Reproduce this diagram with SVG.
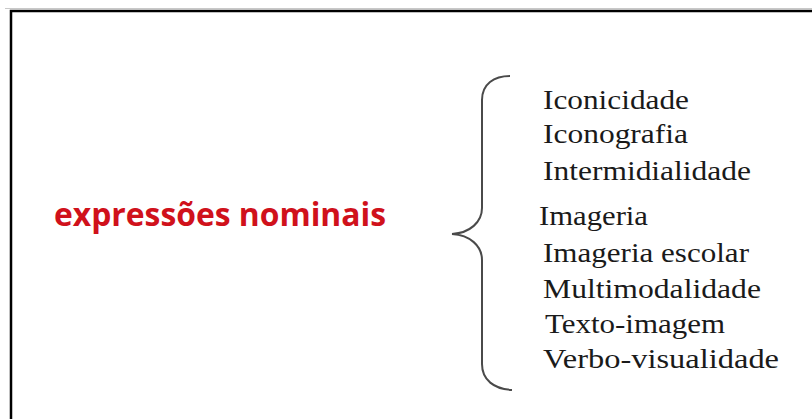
<svg xmlns="http://www.w3.org/2000/svg" width="812" height="419" viewBox="0 0 812 419">
<style>
.item{font-family:"Liberation Serif","Times New Roman",serif;font-size:28px;fill:#1a1a1a}
.title{font-family:"Open Sans","Liberation Sans",sans-serif;font-weight:700;font-size:32px;fill:#d0111b}
.brace{fill:none;stroke:#4a4a4a;stroke-width:2}
</style>
<rect width="812" height="419" fill="#ffffff"/>
<g id="frame">
<line x1="5" y1="8.5" x2="812" y2="8.5" stroke="#c8c8c8" stroke-width="1"/>
<path d="M11,425 L11,11 L820,11" fill="none" stroke="#000" stroke-width="2.5"/>
</g>
<g id="node-title">
<text class="title" x="54" y="226" textLength="332" lengthAdjust="spacingAndGlyphs">expressões nominais</text>
</g>
<g id="connectors">
<path class="brace" d="M510,76 C494,76 482,84 482,100 L482,208 C482,222 470,233 452,234 C470,235 482,246 482,260 L482,364 C482,380 494,389 512,390"/>
</g>
<g id="node-list">
<text class="item" x="543" y="109" textLength="146" lengthAdjust="spacingAndGlyphs">Iconicidade</text>
<text class="item" x="543" y="143" textLength="145" lengthAdjust="spacingAndGlyphs">Iconografia</text>
<text class="item" x="543" y="180" textLength="208" lengthAdjust="spacingAndGlyphs">Intermidialidade</text>
<text class="item" x="539" y="225" textLength="109" lengthAdjust="spacingAndGlyphs">Imageria</text>
<text class="item" x="543" y="262" textLength="206" lengthAdjust="spacingAndGlyphs">Imageria escolar</text>
<text class="item" x="543" y="298" textLength="218" lengthAdjust="spacingAndGlyphs">Multimodalidade</text>
<text class="item" x="545" y="333" textLength="180" lengthAdjust="spacingAndGlyphs">Texto-imagem</text>
<text class="item" x="543" y="368" textLength="236" lengthAdjust="spacingAndGlyphs">Verbo-visualidade</text>
</g>
</svg>
